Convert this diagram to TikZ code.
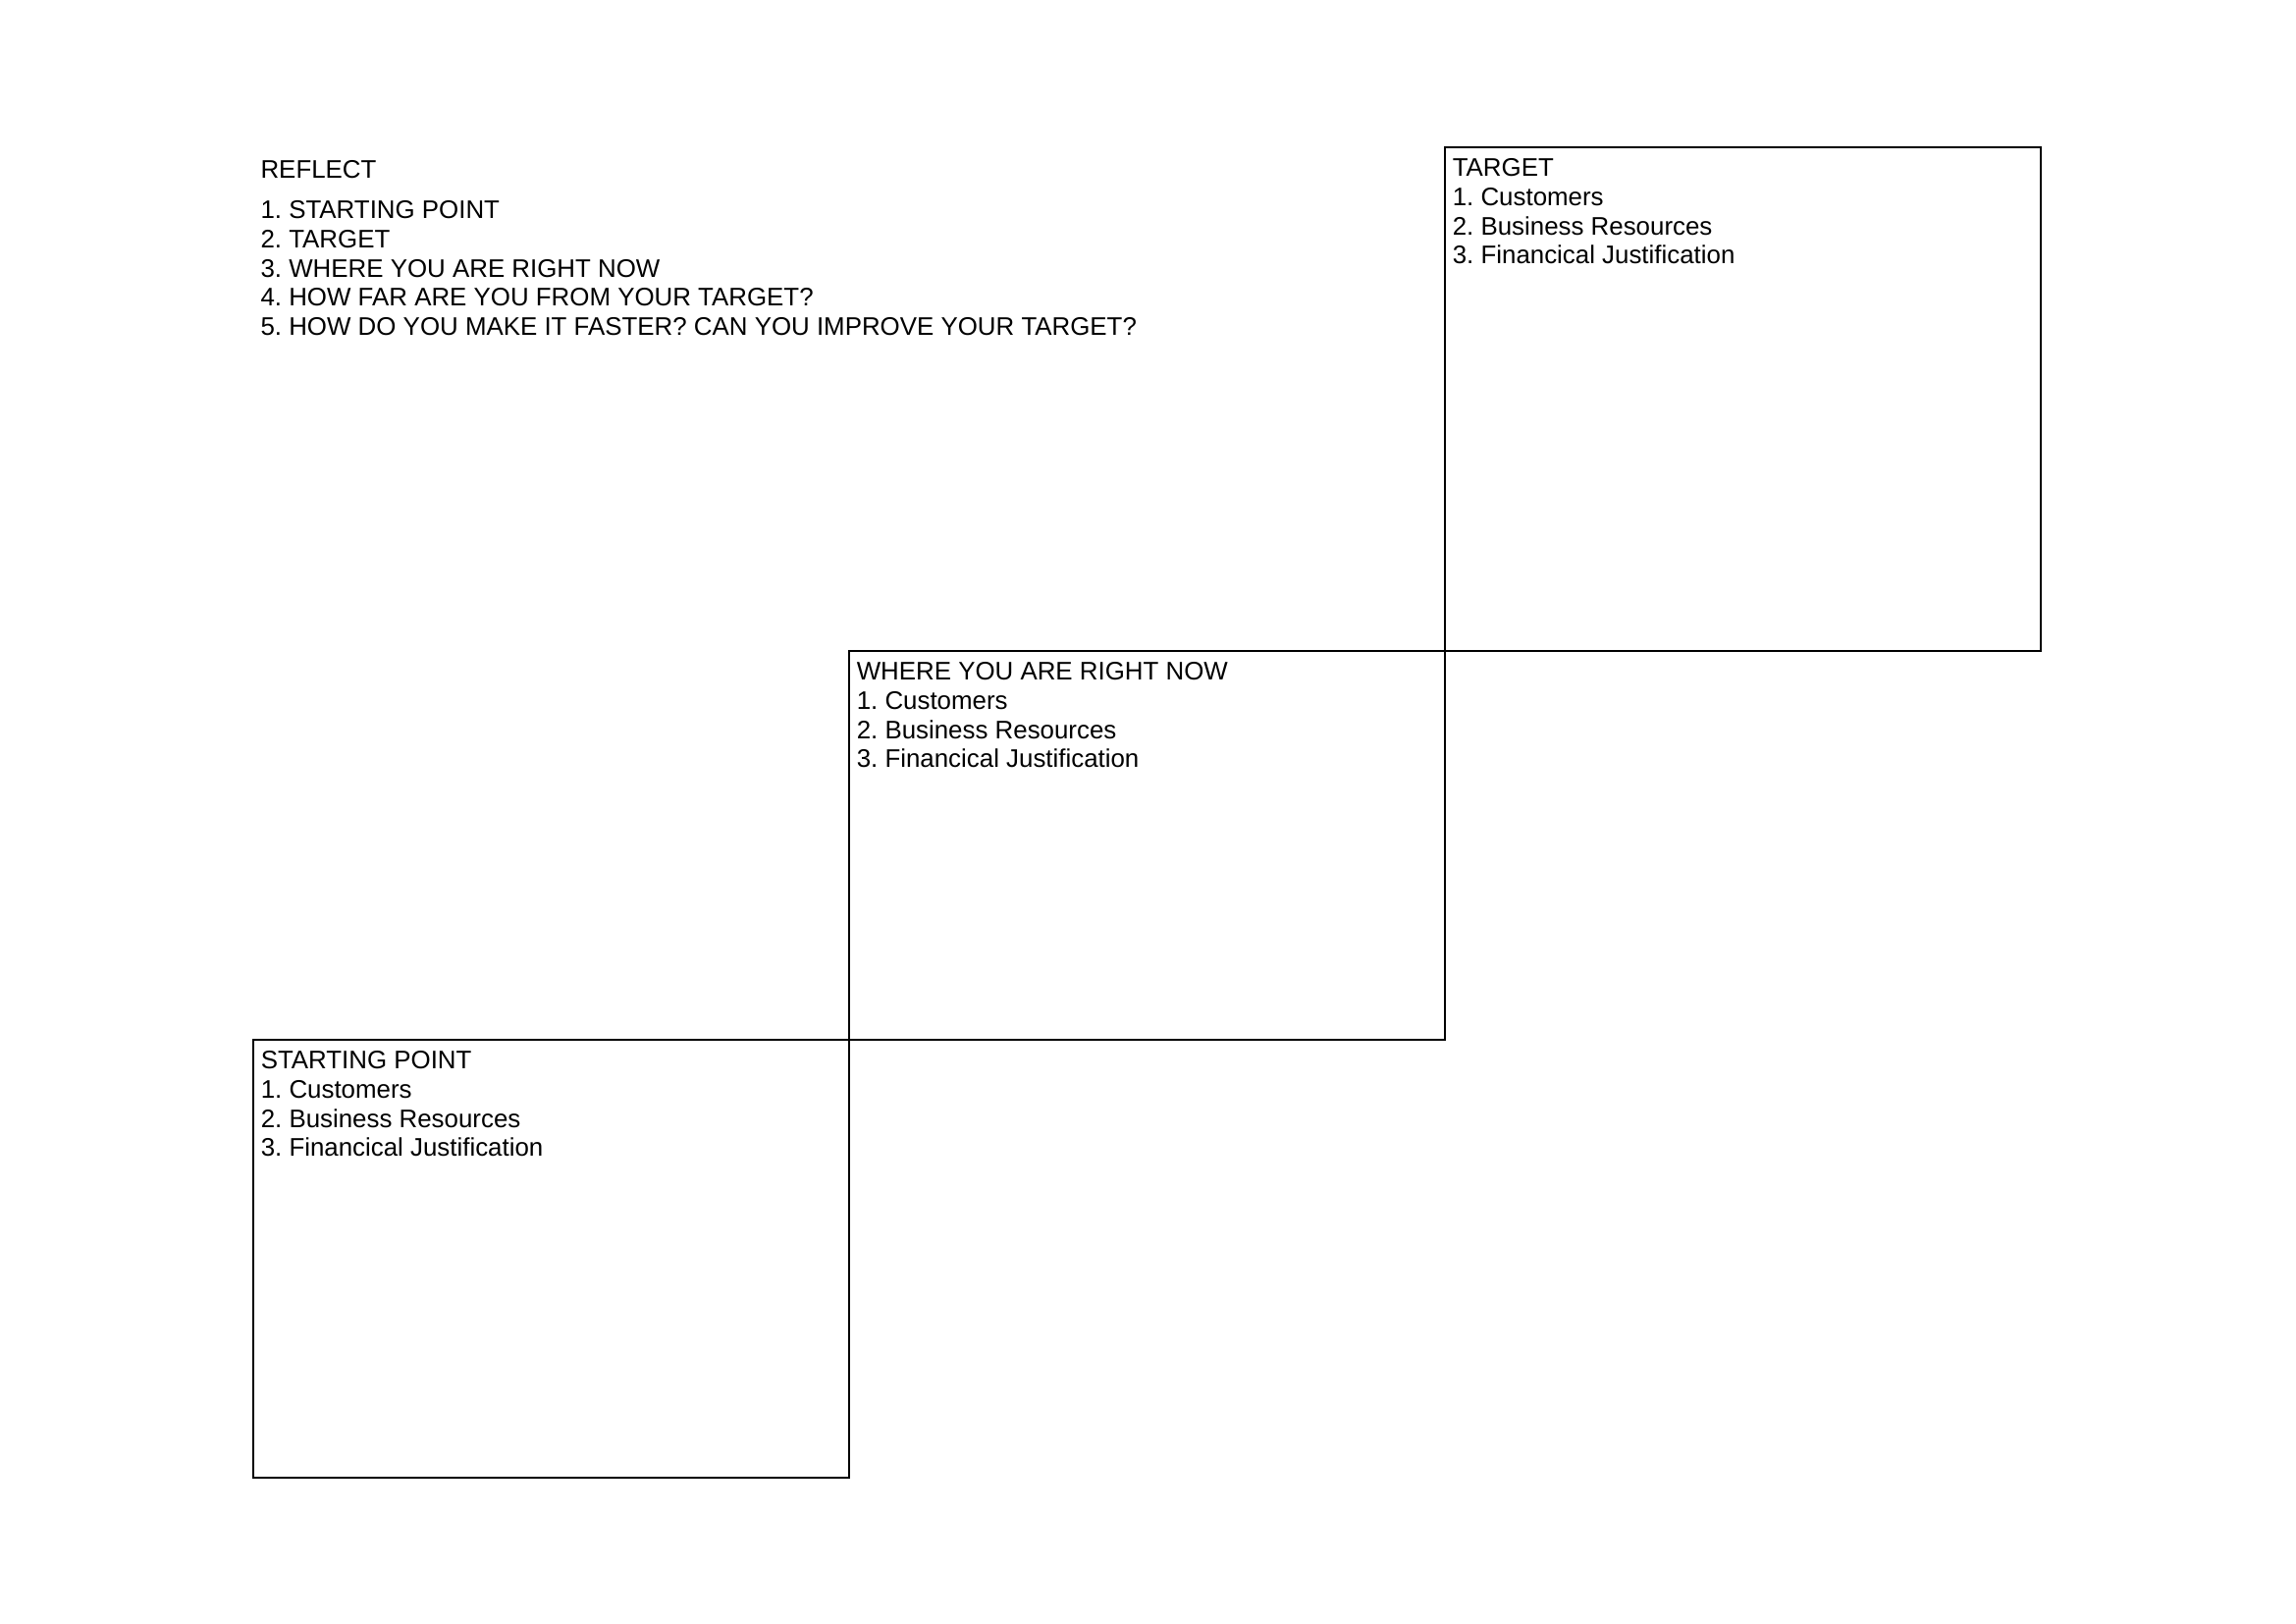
\documentclass[tikz,border=0pt]{standalone}
\usepackage{fontspec}
\setmainfont{Liberation Sans}
\frenchspacing
\usetikzlibrary{positioning}
\tikzset{
	stage/.style={draw, line width=0.7pt, inner sep=0pt, outer sep=0pt, minimum width=77.09mm},
	stagetext/.style={anchor=north west, align=left, inner xsep=2.6pt, inner ysep=4.1pt,
		font=\fontsize{9.35}{10.7}\selectfont},
}
\begin{document}
\begin{tikzpicture}[x=0.127mm, y=-0.127mm]
	\useasboundingbox (0,0) rectangle (2339,1653);
	% the three stages, corner to corner
	\node[stage, minimum height=56.6mm, anchor=north west] (start) at (258,1059) {};
	\node[stage, minimum height=50.29mm, anchor=south west] (now) at (start.north east) {};
	\node[stage, minimum height=65.15mm, anchor=south west] (target) at (now.north east) {};
	\node[stagetext] (starttext) at (start.north west) {STARTING POINT\\1. Customers\\2. Business Resources\\3. Financical Justification};
	\node[stagetext] (nowtext) at (now.north west) {WHERE YOU ARE RIGHT NOW\\1. Customers\\2. Business Resources\\3. Financical Justification};
	\node[stagetext] (targettext) at (target.north west) {TARGET\\1. Customers\\2. Business Resources\\3. Financical Justification};
	% questions
	\node[stagetext, inner sep=0pt] (reflect) at (265,162.7) {REFLECT\\[4.3pt]1. STARTING POINT\\2. TARGET\\3. WHERE YOU ARE RIGHT NOW\\4. HOW FAR ARE YOU FROM YOUR TARGET?\\5. HOW DO YOU MAKE IT FASTER? CAN YOU IMPROVE YOUR TARGET?};
\end{tikzpicture}
\end{document}
